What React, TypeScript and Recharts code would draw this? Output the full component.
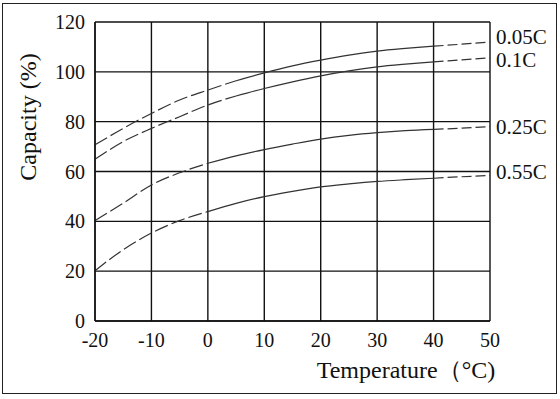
import { LineChart, Line, XAxis, YAxis, CartesianGrid, Label } from 'recharts';

const temps = [-20, -15, -10, -5, 0, 5, 10, 15, 20, 25, 30, 35, 40, 45, 50];
const c005 = [70.7, 77.3, 83.3, 88.7, 92.7, 96.4, 99.6, 102.4, 104.7, 106.7, 108.3, 109.4, 110.3, 111.1, 112];
const c01 = [64.9, 72, 77.3, 82, 86.7, 90.3, 93.3, 96, 98.4, 100.4, 102, 103.1, 104, 104.8, 105.6];
const c025 = [40.3, 47.3, 54.6, 59.5, 63.3, 66.3, 68.8, 71, 73, 74.5, 75.6, 76.4, 76.9, 77.4, 78];
const c055 = [20.2, 28.6, 35.3, 40.3, 43.9, 47.2, 49.9, 52, 53.8, 55, 56, 56.7, 57.3, 57.9, 58.4];

const xTicks = [-20, -10, 0, 10, 20, 30, 40, 50];
const yTicks = [0, 20, 40, 60, 80, 100, 120];

const series = [
  { key: 'a', name: '0.05C', values: c005, solidFrom: 5, dy: -5 },
  { key: 'b', name: '0.1C', values: c01, solidFrom: 5, dy: 2 },
  { key: 'c', name: '0.25C', values: c025, solidFrom: 0, dy: 0 },
  { key: 'd', name: '0.55C', values: c055, solidFrom: 0, dy: -3 },
];
const solidTo = 40;

// split each curve: dashed start, solid middle, dashed end
const data = temps.map((t, i) => {
  const row: Record<string, number | null> = { t };
  series.forEach((s) => {
    const v = s.values[i];
    row[s.key + '_l'] = t <= s.solidFrom ? v : null;
    row[s.key + '_m'] = t >= s.solidFrom && t <= solidTo ? v : null;
    row[s.key + '_r'] = t >= solidTo ? v : null;
  });
  return row;
});

const FONT = '"Liberation Serif", "Times New Roman", serif';
const INK = '#111';
const CURVE = '#333';

const endLabel = (name: string, dy: number) => (props: any) => {
  if (props.index !== temps.length - 1) return null;
  return (
    <text
      key={name}
      x={props.x + 6}
      y={props.y + dy}
      dominantBaseline="central"
      fontFamily={FONT}
      fontSize={21}
      fill={INK}
    >
      {name}
    </text>
  );
};

export default function App() {
  return (
    <div style={{ position: 'absolute', left: 0, top: 0, width: 560, height: 399, background: '#fff' }}>
      <div
        style={{
          position: 'absolute',
          left: 2,
          top: 3,
          width: 553,
          height: 389,
          border: '1.5px solid #222',
        }}
      />
      <LineChart
        width={560}
        height={399}
        data={data}
        margin={{ top: 22, right: 70, bottom: 18, left: 0 }}
        style={{ position: 'absolute', left: 0, top: 0 }}
      >
        <CartesianGrid stroke={INK} strokeWidth={1.4} strokeOpacity={1} />
        <XAxis
          dataKey="t"
          type="number"
          domain={[-20, 50]}
          ticks={xTicks}
          height={60}
          tickLine={false}
          axisLine={{ stroke: INK, strokeWidth: 1.4 }}
          tick={{ fontFamily: FONT, fontSize: 20, fill: INK }}
          tickMargin={6}
          interval={0}
        >
          <Label
            content={(p: any) => (
              <text
                x={p.viewBox.x + 311}
                y={p.viewBox.y + 57}
                textAnchor="middle"
                fontFamily={FONT}
                fontSize={24}
                fill={INK}
              >
                Temperature（°C)
              </text>
            )}
          />
        </XAxis>
        <YAxis
          type="number"
          domain={[0, 120]}
          ticks={yTicks}
          width={95}
          tickLine={false}
          axisLine={{ stroke: INK, strokeWidth: 1.4 }}
          tick={{ fontFamily: FONT, fontSize: 20, fill: INK }}
          tickMargin={4}
          interval={0}
        >
          <Label
            content={(p: any) => (
              <text
                x={p.viewBox.x + 28}
                y={p.viewBox.y + 95}
                textAnchor="middle"
                dominantBaseline="central"
                transform={`rotate(-90 ${p.viewBox.x + 28} ${p.viewBox.y + 95})`}
                fontFamily={FONT}
                fontSize={24}
                fill={INK}
              >
                Capacity  (%)
              </text>
            )}
          />
        </YAxis>
        {series.map((s) => (
          <Line
            key={s.key + '_l'}
            dataKey={s.key + '_l'}
            type="monotone"
            stroke={CURVE}
            strokeWidth={1.2}
            strokeDasharray="14 4"
            dot={false}
            activeDot={false}
            connectNulls={false}
            isAnimationActive={false}
          />
        ))}
        {series.map((s) => (
          <Line
            key={s.key + '_m'}
            dataKey={s.key + '_m'}
            type="monotone"
            stroke={CURVE}
            strokeWidth={1.2}
            dot={false}
            activeDot={false}
            isAnimationActive={false}
          />
        ))}
        {series.map((s) => (
          <Line
            key={s.key + '_r'}
            dataKey={s.key + '_r'}
            type="monotone"
            stroke={CURVE}
            strokeWidth={1.2}
            strokeDasharray="10 4"
            dot={false}
            activeDot={false}
            label={endLabel(s.name, s.dy)}
            isAnimationActive={false}
          />
        ))}
      </LineChart>
    </div>
  );
}
